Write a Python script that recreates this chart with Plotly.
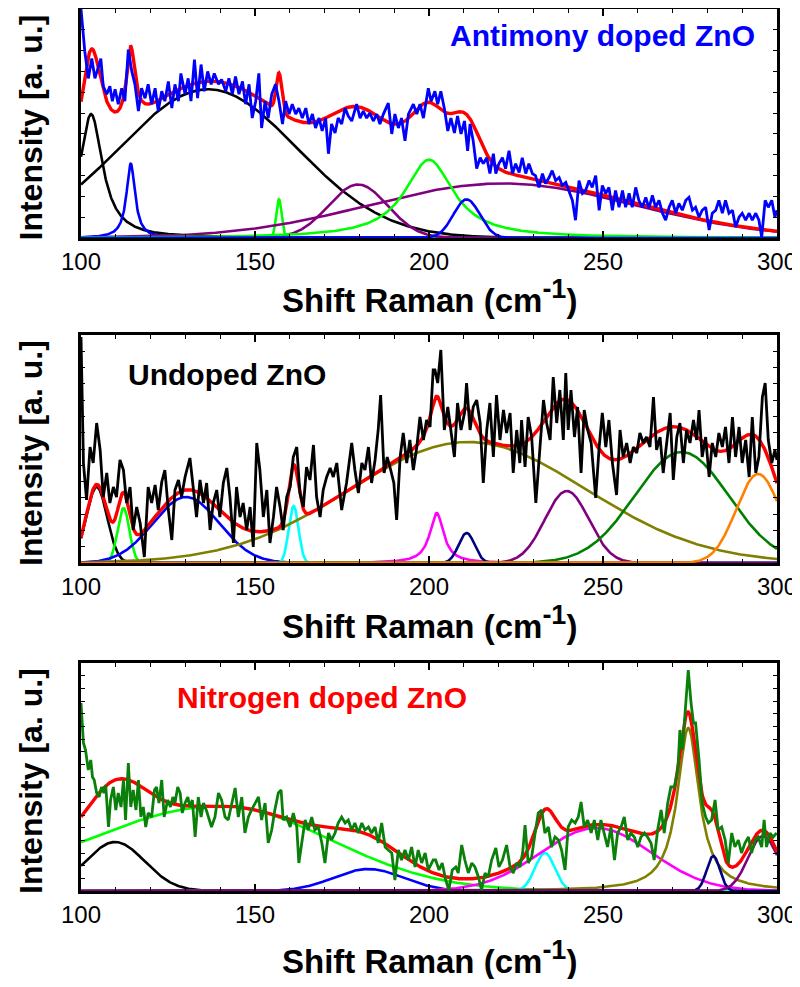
import numpy as np
import plotly.graph_objects as go

# ================= Panel 1 : Antimony doped ZnO (measured spectrum) =================
sb_shift = [100.0, 101.1, 102.1, 103.1, 104.0, 104.8, 105.7, 106.4, 107.4, 108.3, 109.0, 109.8, 110.7, 111.7,
            112.6, 113.6, 114.6, 115.5, 116.5, 117.4, 118.4, 119.3, 120.3, 121.3, 122.2, 123.2, 124.1, 125.1,
            126.1, 127.0, 128.0, 128.7, 129.9, 130.8, 131.6, 132.6, 133.5, 134.5, 135.4, 136.4, 137.4, 138.3,
            139.5, 140.4, 141.6, 142.5, 143.5, 144.4, 145.4, 146.4, 147.3, 148.3, 149.2, 150.2, 151.1, 151.9,
            152.9, 153.8, 154.8, 155.9, 156.9, 157.9, 158.8, 159.8, 160.7, 161.7, 162.6, 163.6, 164.6, 165.5,
            166.5, 167.4, 168.4, 169.3, 170.3, 171.1, 172.0, 173.0, 173.9, 174.9, 175.9, 176.8, 177.8, 179.2,
            180.2, 181.1, 182.1, 183.0, 184.0, 185.0, 185.9, 186.9, 188.3, 189.3, 190.2, 191.2, 192.1, 193.1,
            194.1, 195.5, 196.5, 197.4, 198.4, 199.8, 200.6, 201.7, 202.5, 203.4, 204.4, 205.4, 206.3, 207.3,
            208.2, 209.2, 210.2, 211.1, 211.8, 212.7, 213.7, 214.7, 215.6, 216.6, 217.5, 218.5, 219.2, 220.1,
            221.1, 222.0, 223.0, 224.0, 224.9, 225.9, 226.8, 227.8, 228.7, 229.7, 230.6, 231.6, 232.6, 233.5,
            234.5, 235.4, 236.4, 237.4, 238.3, 239.3, 240.2, 241.2, 242.1, 243.1, 244.1, 245.0, 246.0, 246.9,
            247.9, 248.9, 249.8, 250.8, 251.7, 252.7, 253.6, 254.6, 255.6, 256.5, 257.5, 258.4, 259.4, 260.3,
            261.3, 262.3, 263.2, 264.2, 265.1, 266.1, 267.1, 268.0, 269.0, 269.9, 270.9, 271.8, 272.8, 273.8,
            274.7, 275.7, 276.6, 277.6, 278.5, 279.5, 280.5, 281.4, 282.4, 283.3, 284.3, 285.2, 286.2, 287.2,
            288.1, 289.1, 290.0, 291.0, 292.0, 292.9, 293.9, 294.8, 295.6, 296.6, 297.5, 298.5, 299.4, 300.0]
sb_int = [231, 188, 161, 181, 161, 171, 181, 153, 145, 153, 138, 150, 135, 151,
          138, 190, 168, 155, 128, 151, 141, 155, 135, 151, 128, 148, 138, 158,
          131, 155, 138, 166, 145, 161, 138, 180, 141, 175, 148, 168, 155, 166,
          155, 160, 148, 161, 145, 163, 145, 158, 135, 155, 121, 138, 166, 111,
          138, 121, 145, 155, 138, 115, 138, 125, 135, 125, 131, 121, 131, 115,
          125, 111, 121, 108, 121, 85, 115, 106, 121, 115, 131, 123, 118, 135,
          121, 128, 121, 126, 118, 125, 115, 125, 136, 105, 125, 111, 121, 98,
          125, 135, 125, 135, 121, 151, 138, 148, 135, 148, 131, 108, 121, 106,
          123, 105, 118, 88, 115, 98, 70, 81, 75, 81, 65, 85, 65, 75,
          81, 70, 88, 65, 75, 66, 81, 65, 75, 65, 63, 51, 65, 55,
          61, 68, 58, 61, 53, 56, 48, 38, 18, 58, 45, 48, 58, 51,
          63, 28, 53, 45, 51, 28, 48, 31, 48, 31, 45, 31, 51, 38,
          31, 41, 30, 43, 31, 38, 25, 18, 31, 38, 25, 35, 28, 38,
          41, 28, 31, 21, 28, 31, 8, 25, 28, 38, 25, 38, 25, 28,
          11, 21, 25, 18, 25, 18, 25, 18, 1, 38, 31, 38, 21, 28]
# fitted bands: centre, height, left width, right width, profile (G gaussian sigma / L lorentzian hwhm)
sb_center = [102.9, 136.5, 114.3, 156.9, 179.6, 221.0, 200.0, 210.8]
sb_height = [125, 150, 75, 39, 54, 55, 79, 39]
sb_wleft = [4.0, 25.5, 1.5, 0.8, 8.5, 38.0, 8.5, 3.8]
sb_wright = [4.0, 25.5, 1.5, 0.8, 8.5, 38.0, 8.5, 3.8]
sb_shape = ['L', 'G', 'L', 'G', 'G', 'G', 'L', 'G']
sb_colors = ['#000000', '#000000', '#0000ff', '#00ff00', '#800080', '#800080', '#00ff00', '#0000ff']

# ================= Panel 2 : Undoped ZnO =================
un_shift = [100.0, 100.7, 101.6, 102.6, 103.5, 104.5, 105.5, 106.4, 107.4, 108.3, 109.3, 110.2, 111.2, 112.2,
            113.1, 114.1, 115.0, 116.0, 117.0, 118.2, 119.3, 120.3, 121.3, 122.2, 123.2, 124.1, 125.1, 126.1,
            127.0, 128.0, 128.9, 129.9, 131.3, 132.3, 133.2, 134.2, 135.2, 136.1, 137.1, 138.0, 139.0, 139.9,
            140.9, 141.9, 142.8, 143.8, 144.7, 145.7, 146.6, 147.6, 148.6, 149.5, 150.5, 151.4, 152.4, 153.4,
            154.3, 155.3, 156.2, 157.2, 158.1, 159.1, 160.1, 161.0, 162.0, 162.9, 163.9, 164.8, 165.8, 166.8,
            167.7, 168.7, 169.6, 170.6, 171.6, 172.5, 173.5, 174.9, 176.3, 177.8, 178.7, 179.7, 180.7, 181.6,
            182.6, 183.5, 184.5, 185.4, 186.1, 187.1, 188.0, 189.0, 189.9, 190.7, 191.7, 192.6, 193.6, 194.5,
            195.5, 196.5, 197.4, 198.4, 199.3, 200.3, 201.2, 201.7, 202.5, 203.4, 204.4, 205.4, 206.3, 207.3,
            208.2, 209.2, 210.2, 210.8, 211.8, 212.7, 213.7, 214.7, 215.6, 216.6, 217.5, 218.5, 219.4, 220.4,
            221.4, 222.3, 223.3, 224.2, 225.2, 226.1, 226.6, 227.6, 228.5, 229.5, 230.7, 231.9, 232.9, 233.8,
            234.8, 235.7, 236.7, 237.6, 238.6, 239.3, 240.0, 240.8, 241.8, 242.7, 243.7, 244.6, 245.6, 246.6,
            247.9, 248.9, 249.8, 250.8, 251.7, 252.7, 253.9, 254.9, 255.8, 256.8, 257.8, 258.7, 259.7, 260.6,
            261.6, 262.5, 263.5, 264.5, 265.4, 266.4, 267.3, 268.3, 269.3, 270.2, 271.2, 272.1, 273.1, 274.0,
            275.0, 276.0, 276.9, 277.6, 278.5, 279.5, 280.5, 281.4, 282.4, 283.3, 284.3, 285.2, 286.2, 287.2,
            288.1, 289.1, 290.0, 291.0, 292.0, 292.9, 293.9, 294.8, 295.8, 296.6, 297.5, 298.5, 299.4, 300.0]
un_int = [226, 100, 63, 116, 100, 140, 113, 66, 90, 60, 76, 66, 103, 93,
          60, 76, 33, 56, 40, 6, 76, 60, 78, 53, 81, 93, 53, 23,
          73, 83, 66, 86, 105, 76, 46, 83, 60, 80, 33, 60, 73, 46,
          80, 95, 66, 20, 76, 46, 60, 33, 56, 16, 120, 93, 46, 73,
          20, 46, 76, 56, 33, 66, 76, 106, 116, 70, 56, 96, 83, 118,
          66, 46, 73, 86, 95, 86, 100, 53, 80, 120, 93, 70, 100, 93,
          116, 80, 103, 133, 168, 90, 106, 93, 80, 43, 106, 130, 100, 123,
          93, 116, 146, 123, 143, 136, 193, 193, 180, 213, 133, 156, 130, 106,
          160, 133, 150, 180, 133, 156, 163, 140, 80, 133, 160, 106, 168, 123,
          153, 130, 150, 90, 133, 100, 143, 96, 146, 126, 60, 113, 163, 140,
          123, 186, 140, 173, 123, 190, 133, 173, 126, 156, 90, 153, 133, 120,
          65, 116, 150, 116, 143, 100, 68, 133, 106, 120, 100, 116, 110, 130,
          120, 126, 116, 166, 113, 126, 90, 120, 150, 83, 126, 140, 100, 133,
          120, 143, 123, 153, 106, 126, 86, 120, 106, 130, 116, 136, 100, 146,
          106, 136, 100, 123, 86, 146, 90, 106, 166, 180, 123, 100, 113, 103]
un_center = [104.5, 112.2, 130.2, 161.1, 211.3, 202.2, 210.8, 239.6, 272.6, 294.6]
un_height = [76, 55, 66, 57, 121, 50, 30, 72, 111, 89]
un_wleft = [3.0, 1.7, 9.5, 1.4, 34.0, 2.4, 2.3, 6.3, 13.5, 6.3]
un_wright = [3.0, 1.7, 9.5, 1.4, 34.0, 2.4, 2.3, 6.3, 13.5, 6.3]
un_shape = ['G', 'G', 'G', 'G', 'G', 'L', 'G', 'G', 'G', 'G']
un_colors = ['#000000', '#00ff00', '#0000ff', '#00ffff', '#808000', '#ff00ff', '#000080', '#800080',
             '#008000', '#ff8000']

# ================= Panel 3 : Nitrogen doped ZnO =================
nd_shift = [100.0, 100.7, 101.3, 102.1, 102.8, 103.3, 103.8, 104.5, 105.2, 105.9, 106.6, 107.1, 107.9, 108.5,
            109.3, 110.0, 110.7, 111.5, 112.2, 112.8, 113.6, 114.3, 115.0, 115.8, 116.5, 117.2, 117.9, 118.6,
            119.3, 120.3, 121.1, 121.7, 122.4, 123.2, 123.9, 124.9, 125.7, 126.4, 127.0, 127.8, 128.5, 129.1,
            129.9, 130.7, 131.3, 132.0, 132.8, 133.7, 134.5, 135.2, 136.0, 136.8, 137.5, 138.5, 139.5, 140.4,
            141.4, 142.3, 143.3, 144.3, 145.2, 146.2, 147.1, 148.1, 149.0, 150.0, 151.0, 151.9, 152.9, 153.8,
            154.8, 155.7, 156.7, 157.5, 158.1, 159.1, 160.1, 161.0, 162.0, 162.6, 163.6, 164.4, 165.3, 166.3,
            167.2, 168.2, 169.2, 170.1, 171.1, 172.0, 173.0, 173.9, 174.9, 175.9, 176.8, 177.8, 178.7, 179.7,
            180.7, 181.6, 182.6, 183.5, 184.5, 185.4, 186.4, 187.4, 188.3, 189.3, 190.2, 191.2, 192.1, 193.1,
            194.1, 195.0, 196.0, 196.9, 197.9, 198.9, 199.8, 201.2, 201.9, 202.9, 203.8, 204.8, 205.7, 206.7,
            207.7, 208.4, 209.4, 210.3, 211.3, 212.3, 213.2, 214.2, 215.1, 216.1, 217.0, 218.0, 219.2, 220.1,
            221.1, 222.3, 223.3, 224.2, 225.2, 226.1, 226.9, 227.6, 228.5, 229.5, 230.5, 231.4, 232.4, 233.3,
            234.3, 235.2, 236.2, 237.2, 238.1, 239.1, 240.0, 241.0, 242.0, 242.9, 243.7, 244.6, 245.6, 246.6,
            247.5, 248.5, 249.4, 250.4, 251.3, 252.3, 253.3, 254.2, 255.2, 256.1, 257.1, 258.0, 259.0, 260.0,
            260.9, 261.9, 262.8, 263.8, 264.7, 265.7, 266.7, 267.6, 268.6, 269.5, 270.5, 271.5, 272.1, 272.8,
            273.8, 274.5, 275.3, 276.0, 276.6, 277.6, 278.5, 279.5, 280.3, 281.2, 282.2, 283.1, 284.1, 285.1,
            286.0, 287.0, 287.9, 288.9, 289.8, 290.8, 291.8, 292.7, 293.7, 294.6, 295.6, 296.3, 297.0, 298.0,
            298.9, 299.9]
nd_int = [188, 148, 141, 121, 131, 114, 111, 98, 94, 104, 98, 106, 64, 91,
          104, 81, 98, 84, 111, 71, 128, 84, 101, 81, 111, 74, 84, 64,
          78, 74, 101, 104, 88, 111, 74, 91, 84, 94, 88, 104, 98, 78,
          88, 94, 84, 91, 54, 94, 74, 88, 81, 71, 64, 74, 98, 91,
          74, 71, 88, 103, 74, 94, 58, 74, 81, 88, 94, 71, 88, 48,
          61, 81, 98, 101, 71, 74, 64, 78, 64, 28, 51, 71, 61, 74,
          61, 64, 48, 28, 58, 51, 58, 68, 74, 68, 71, 61, 68, 58,
          68, 61, 64, 58, 64, 48, 68, 44, 41, 38, 11, 41, 31, 41,
          31, 44, 24, 41, 28, 38, 21, 31, 31, 21, 28, 11, 1, 21,
          24, 18, 46, 31, 18, 28, 24, 14, 1, 18, 14, 31, 43, 24,
          31, 46, 24, 18, 28, 24, 38, 66, 28, 34, 58, 78, 81, 58,
          64, 44, 54, 51, 41, 21, 64, 71, 68, 74, 89, 64, 71, 58,
          71, 51, 71, 58, 44, 64, 31, 58, 64, 74, 51, 58, 54, 44,
          54, 58, 54, 48, 31, 61, 81, 58, 88, 104, 104, 121, 161, 141,
          188, 221, 188, 168, 168, 131, 88, 74, 68, 71, 91, 61, 64, 51,
          28, 58, 44, 51, 38, 48, 54, 38, 51, 54, 44, 71, 44, 58,
          54, 58]
nd_center = [109.8, 140.0, 182.6, 233.3, 248.0, 274.5, 281.7, 296.0]
nd_height = [49, 85, 22, 38, 63, 163, 35, 55]
nd_wleft = [8.5, 38.0, 10.0, 2.85, 16.0, 3.8, 1.9, 4.3]
nd_wright = [8.5, 31.5, 10.0, 2.85, 16.0, 3.8, 1.9, 4.3]
nd_shape = ['G', 'G', 'G', 'G', 'G', 'L', 'G', 'G']
nd_colors = ['#000000', '#00ff00', '#0000ff', '#00ffff', '#ff00ff', '#808000', '#000080', '#800080']

x_ticks = [100, 150, 200, 250, 300]
panel_labels = ['Antimony doped ZnO', 'Undoped ZnO', 'Nitrogen doped ZnO']
x_title = 'Shift Raman (cm<sup><span style="font-size:27px">-1</span></sup>)'
y_title = 'Intensity [a. u.]'

# ------------------------------------------------------------------
# the page body has an 8 px margin: figure starts at page pixel (8, 8)
OFF = 8
W, H = 792, 971
grid = np.linspace(100, 300, 1601)


def fx(px):
    return min(max((px - OFF) / W, 0.0), 1.0)


def fy(py):
    return min(max(1 - (py - OFF) / H, 0.0), 1.0)


def band(x, c, h, wl, wr, shape):
    w = np.where(x < c, wl, wr)
    d = (x - c) / w
    if shape == 'L':
        return h / (1.0 + d ** 2)
    return h * np.exp(-0.5 * d ** 2)


panels = [
    dict(shift=sb_shift, inten=sb_int, data_color='#0000ff', center=sb_center, height=sb_height,
         wl=sb_wleft, wr=sb_wright, shape=sb_shape, colors=sb_colors,
         top=9, bottom=238, ymax=231, ydt=21.0, label_xy=(602, 35), label_color='#0000ff',
         title_y=297),
    dict(shift=un_shift, inten=un_int, data_color='#000000', center=un_center, height=un_height,
         wl=un_wleft, wr=un_wright, shape=un_shape, colors=un_colors,
         top=335, bottom=563, ymax=228, ydt=228 / 14, label_xy=(227, 375), label_color='#000000',
         title_y=622),
    dict(shift=nd_shift, inten=nd_int, data_color='#0a800a', center=nd_center, height=nd_height,
         wl=nd_wleft, wr=nd_wright, shape=nd_shape, colors=nd_colors,
         top=663, bottom=891, ymax=228, ydt=228 / 18, label_xy=(322, 697), label_color='#ff0000',
         title_y=957),
]

X0, X1 = 81, 777
fig = go.Figure()
annotations = []
layout = dict(width=W, height=H, margin=dict(l=0, r=0, t=0, b=0, pad=0, autoexpand=False),
              showlegend=False, paper_bgcolor='white', plot_bgcolor='white')

for i, p in enumerate(panels):
    k = '' if i == 0 else str(i + 1)
    xa, ya = 'x' + k, 'y' + k
    total = np.zeros_like(grid)
    comps = []
    for c, h, wl, wr, s in zip(p['center'], p['height'], p['wl'], p['wr'], p['shape']):
        yv = band(grid, c, h, wl, wr, s)
        comps.append(yv)
        total += yv
    for yv, col in zip(comps, p['colors']):
        fig.add_trace(go.Scatter(x=grid, y=yv, mode='lines', line=dict(color=col, width=2.6),
                                 xaxis=xa, yaxis=ya, hoverinfo='skip'))
    fig.add_trace(go.Scatter(x=grid, y=total, mode='lines', line=dict(color='#ff0000', width=3.4),
                             xaxis=xa, yaxis=ya, hoverinfo='skip'))
    fig.add_trace(go.Scatter(x=p['shift'], y=p['inten'], mode='lines',
                             line=dict(color=p['data_color'], width=2.8),
                             xaxis=xa, yaxis=ya, hoverinfo='skip'))

    ydom = [fy(p['bottom']), fy(p['top'])]
    layout['xaxis' + k] = dict(domain=[fx(X0), fx(X1)], range=[100, 300], anchor=ya, automargin=False,
                               tickmode='array', tickvals=x_ticks, ticktext=[str(t) for t in x_ticks],
                               ticks='inside', ticklen=7, tickwidth=1.5, tickcolor='black',
                               minor=dict(dtick=10, tick0=100, ticks='inside', ticklen=4,
                                          tickwidth=1, tickcolor='black'),
                               showline=True, linewidth=3, linecolor='black', mirror='ticks',
                               showgrid=False, zeroline=False,
                               tickfont=dict(family='Liberation Sans, Arial', size=24, color='black'))
    layout['yaxis' + k] = dict(domain=ydom, range=[0, p['ymax']], anchor=xa, automargin=False,
                               tickmode='linear', tick0=0, dtick=p['ydt'], showticklabels=False,
                               ticks='inside', ticklen=4, tickwidth=1, tickcolor='black',
                               showline=True, linewidth=3, linecolor='black', mirror='ticks',
                               showgrid=False, zeroline=False)
    lx, ly = p['label_xy']
    annotations.append(dict(x=fx(lx), y=fy(ly), xref='paper', yref='paper', text='<b>%s</b>' % panel_labels[i],
                            showarrow=False, xanchor='center', yanchor='middle',
                            font=dict(family='Liberation Sans, Arial', size=30, color=p['label_color'])))
    annotations.append(dict(x=fx((X0 + X1) / 2), y=fy(p['title_y']), xref='paper', yref='paper',
                            text='<b>%s</b>' % x_title, showarrow=False, xanchor='center', yanchor='middle',
                            font=dict(family='Liberation Sans, Arial', size=33, color='black')))
    annotations.append(dict(x=fx(31), y=fy((p['top'] + p['bottom']) / 2 + 4), xref='paper', yref='paper',
                            text='<b>%s</b>' % y_title, showarrow=False, textangle=-90,
                            xanchor='center', yanchor='middle',
                            font=dict(family='Liberation Sans, Arial', size=32, color='black')))

layout['annotations'] = annotations
fig.update_layout(**layout)
fig.write_html('out.html')
